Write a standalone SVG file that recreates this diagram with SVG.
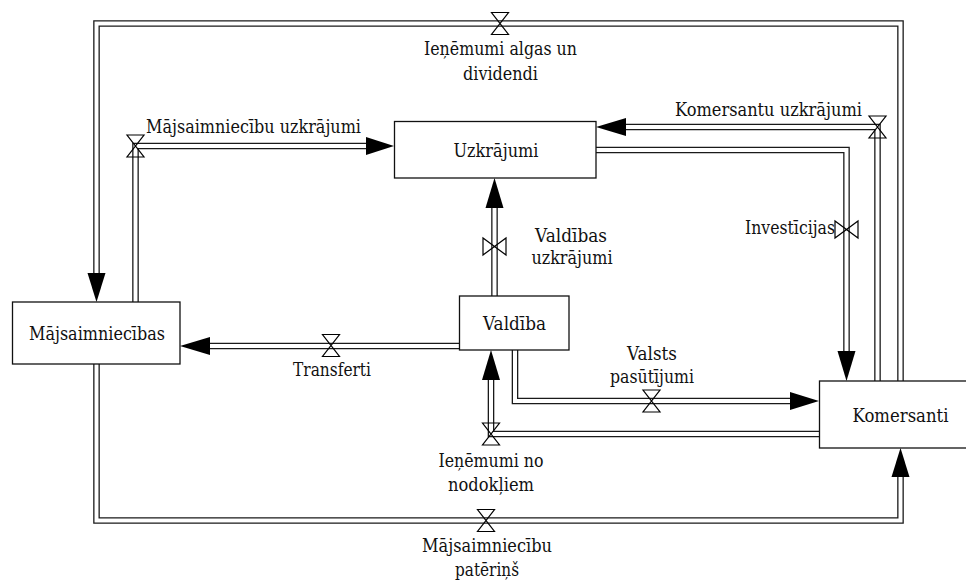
<svg xmlns="http://www.w3.org/2000/svg" width="966" height="580" viewBox="0 0 966 580">
<style>
.po{fill:none;stroke:#1a1a1a;stroke-width:6.6;stroke-linejoin:miter}
.pi{fill:none;stroke:#fff;stroke-width:4;stroke-linejoin:miter}
.ar{fill:#000}
.va{fill:none;stroke:#000;stroke-width:1.2}
.box{fill:#fff;stroke:#111;stroke-width:1.3}
text{font-family:"DejaVu Serif","Liberation Serif",serif;font-size:18.5px;fill:#111}
.m{text-anchor:middle}
.e{text-anchor:end}
</style>
<rect width="966" height="580" fill="#fff"/>
<g id="connectors">
  <g id="c-algas">
    <path class="po" d="M900.5,381 V23.5 H96.5 V274"/>
    <path class="pi" d="M900.5,381 V23.5 H96.5 V274"/>
    <polygon class="ar" points="87.5,273 105.5,273 96.5,302"/>
    <path class="va" d="M491.5,12.5 H508.5 L491.5,34.5 H508.5 Z"/>
  </g>
  <g id="c-maj-uzkr">
    <path class="po" d="M135.5,302 V146 H367"/>
    <path class="pi" d="M135.5,302 V146 H367"/>
    <polygon class="ar" points="366,137 366,155 394,146"/>
    <path class="va" d="M127,135 H144 L127,157 H144 Z"/>
  </g>
  <g id="c-kom-uzkr">
    <path class="po" d="M877.5,381 V127 H625"/>
    <path class="pi" d="M877.5,381 V127 H625"/>
    <polygon class="ar" points="626,118 626,136 596,127"/>
    <path class="va" d="M869,116 H886 L869,138 H886 Z"/>
  </g>
  <g id="c-invest">
    <path class="po" d="M596,150 H846.5 V352"/>
    <path class="pi" d="M596,150 H846.5 V352"/>
    <polygon class="ar" points="837.5,351 855.5,351 846.5,381"/>
    <path class="va" d="M835,221 V238 L858,221 V238 Z"/>
  </g>
  <g id="c-vald-uzkr">
    <path class="po" d="M494.5,296 V207"/>
    <path class="pi" d="M494.5,296 V207"/>
    <polygon class="ar" points="485.5,208 503.5,208 494.5,178"/>
    <path class="va" d="M483,238 V255 L506,238 V255 Z"/>
  </g>
  <g id="c-transf">
    <path class="po" d="M459,346 H209"/>
    <path class="pi" d="M459,346 H209"/>
    <polygon class="ar" points="210,337 210,355 180,346"/>
    <path class="va" d="M322.5,334.5 H339.5 L322.5,356.5 H339.5 Z"/>
  </g>
  <g id="c-valsts">
    <path class="po" d="M515,350 V401 H791"/>
    <path class="pi" d="M515,350 V401 H791"/>
    <polygon class="ar" points="790,392 790,410 819,401"/>
    <path class="va" d="M643,390 H660 L643,412 H660 Z"/>
  </g>
  <g id="c-nodokli">
    <path class="po" d="M819,434 H491 V379"/>
    <path class="pi" d="M819,434 H491 V379"/>
    <polygon class="ar" points="482,380 500,380 491,350"/>
    <path class="va" d="M482.5,423 H499.5 L482.5,445 H499.5 Z"/>
  </g>
  <g id="c-pateri">
    <path class="po" d="M96.5,364 V520.5 H900.5 V476"/>
    <path class="pi" d="M96.5,364 V520.5 H900.5 V476"/>
    <polygon class="ar" points="891.5,477 909.5,477 900.5,448"/>
    <path class="va" d="M477.5,509.5 H494.5 L477.5,531.5 H494.5 Z"/>
  </g>
  <g id="labels" lengthAdjust="spacingAndGlyphs">
    <text class="m" x="500.5" y="55" textLength="153" lengthAdjust="spacingAndGlyphs">Ieņēmumi algas un</text>
    <text class="m" x="500.5" y="80" textLength="75" lengthAdjust="spacingAndGlyphs">dividendi</text>
    <text x="146" y="133" textLength="215" lengthAdjust="spacingAndGlyphs">Mājsaimniecību uzkrājumi</text>
    <text class="e" x="862" y="116" textLength="187" lengthAdjust="spacingAndGlyphs">Komersantu uzkrājumi</text>
    <text class="e" x="835" y="234" textLength="90" lengthAdjust="spacingAndGlyphs">Investīcijas</text>
    <text class="m" x="571" y="242" textLength="72" lengthAdjust="spacingAndGlyphs">Valdības</text>
    <text class="m" x="572" y="264" textLength="81" lengthAdjust="spacingAndGlyphs">uzkrājumi</text>
    <text class="m" x="332" y="376" textLength="78" lengthAdjust="spacingAndGlyphs">Transferti</text>
    <text class="m" x="652" y="360" textLength="50" lengthAdjust="spacingAndGlyphs">Valsts</text>
    <text class="m" x="652" y="383" textLength="84" lengthAdjust="spacingAndGlyphs">pasūtījumi</text>
    <text class="m" x="491" y="467" textLength="105" lengthAdjust="spacingAndGlyphs">Ieņēmumi no</text>
    <text class="m" x="491" y="491" textLength="86" lengthAdjust="spacingAndGlyphs">nodokļiem</text>
    <text class="m" x="487" y="552" textLength="130" lengthAdjust="spacingAndGlyphs">Mājsaimniecību</text>
    <text class="m" x="487" y="576" textLength="64" lengthAdjust="spacingAndGlyphs">patēriņš</text>
  </g>
</g>
<g id="n-uzkrajumi">
  <rect class="box" x="394.5" y="121.5" width="201.5" height="56.5"/>
  <text class="m" x="496" y="156.5" textLength="85" lengthAdjust="spacingAndGlyphs">Uzkrājumi</text>
</g>
<g id="n-majsaimniecibas">
  <rect class="box" x="12.5" y="302" width="167.5" height="62"/>
  <text class="m" x="97" y="340" textLength="136" lengthAdjust="spacingAndGlyphs">Mājsaimniecības</text>
</g>
<g id="n-valdiba">
  <rect class="box" x="459.5" y="296" width="109.5" height="54"/>
  <text class="m" x="514.5" y="330" textLength="63" lengthAdjust="spacingAndGlyphs">Valdība</text>
</g>
<g id="n-komersanti">
  <rect class="box" x="819.5" y="381" width="165" height="67"/>
  <text class="m" x="900.5" y="421.5" textLength="96" lengthAdjust="spacingAndGlyphs">Komersanti</text>
</g>
</svg>
